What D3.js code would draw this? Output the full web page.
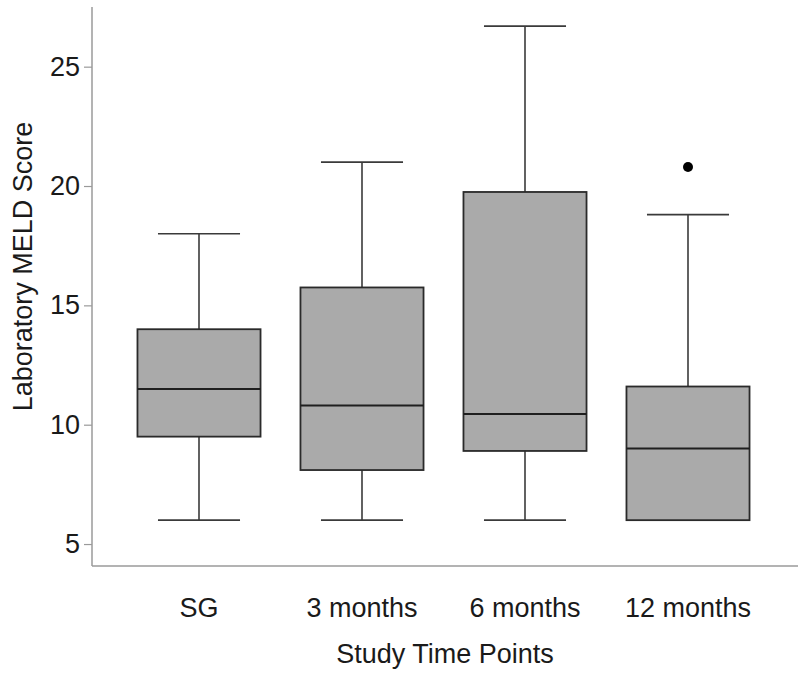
<!DOCTYPE html>
<html>
<head>
<meta charset="utf-8">
<script src="https://cdn.jsdelivr.net/npm/d3@7"></script>
<style>
  body { margin: 0; background: #fff; }
  text { font-family: "Liberation Sans", Arial, Helvetica, sans-serif; fill: #1a1a1a; }
</style>
</head>
<body>
<div id="chart"></div>
<script>
// Study time points and box statistics
const categories = ['SG', '3 months', '6 months', '12 months'];
const whiskerLow = [6.0, 6.0, 6.0, 6.0];
const q1 = [9.5, 8.1, 8.9, 6.0];
const median = [11.5, 10.8, 10.45, 9.0];
const q3 = [14.0, 15.75, 19.75, 11.6];
const whiskerHigh = [18.0, 21.0, 26.7, 18.8];
const outliers = [[], [], [], [20.8]];
const yTicks = [5, 10, 15, 20, 25];

const width = 800, height = 678;
const margin = { top: 7, right: 2, bottom: 112, left: 92 };
const fontSize = '27px';

const svg = d3.select('#chart').append('svg')
    .attr('width', width)
    .attr('height', height);

const yScale = d3.scaleLinear()
    .domain([4.08, 27.5])
    .range([height - margin.bottom, margin.top]);

const xScale = d3.scaleBand()
    .domain(categories)
    .range([117.5, 769.5])
    .paddingInner(0.245)
    .paddingOuter(0.1225);

const boxes = categories.map((c, i) => ({
    cat: c, lo: whiskerLow[i], q1: q1[i], med: median[i], q3: q3[i], hi: whiskerHigh[i], out: outliers[i]
}));

// Axes
const yAxis = d3.axisLeft(yScale).tickValues(yTicks).tickSize(8).tickPadding(4);
const gy = svg.append('g')
    .attr('transform', `translate(${margin.left},0)`)
    .call(yAxis);
gy.select('.domain').remove();
gy.append('line')
    .attr('x1', 0).attr('x2', 0)
    .attr('y1', margin.top).attr('y2', height - margin.bottom)
    .attr('stroke', '#9a9a9a').attr('stroke-width', 1.5);
gy.selectAll('.tick line').attr('stroke', '#9a9a9a').attr('stroke-width', 1.2);
gy.selectAll('.tick text').style('font-size', fontSize).attr('fill', '#1a1a1a');

const xAxis = d3.axisBottom(xScale).tickSize(0).tickPadding(32);
const gx = svg.append('g')
    .attr('transform', `translate(0,${height - margin.bottom})`)
    .call(xAxis);
gx.select('.domain').remove();
gx.append('line')
    .attr('x1', margin.left).attr('x2', width - margin.right)
    .attr('y1', 0).attr('y2', 0)
    .attr('stroke', '#9a9a9a').attr('stroke-width', 1.5);
gx.selectAll('.tick text').style('font-size', fontSize).attr('fill', '#1a1a1a');

// Axis titles
svg.append('text')
    .attr('x', (margin.left + width - margin.right) / 2)
    .attr('y', 663)
    .attr('text-anchor', 'middle')
    .style('font-size', fontSize)
    .text('Study Time Points');

svg.append('text')
    .attr('transform', `translate(32,${(margin.top + height - margin.bottom) / 2 - 20}) rotate(-90)`)
    .attr('text-anchor', 'middle')
    .style('font-size', fontSize)
    .text('Laboratory MELD Score');

// Boxes
const bw = xScale.bandwidth();
const capW = bw * 2 / 3;
const g = svg.append('g').selectAll('g.box')
    .data(boxes)
    .join('g')
    .attr('class', 'box')
    .attr('transform', d => `translate(${xScale(d.cat)},0)`);

// whiskers
g.append('line')
    .attr('x1', bw / 2).attr('x2', bw / 2)
    .attr('y1', d => yScale(d.hi)).attr('y2', d => yScale(d.q3))
    .attr('stroke', '#3a3a3a').attr('stroke-width', 1.6);
g.append('line')
    .attr('x1', bw / 2).attr('x2', bw / 2)
    .attr('y1', d => yScale(d.q1)).attr('y2', d => yScale(d.lo))
    .attr('stroke', '#3a3a3a').attr('stroke-width', 1.6);
// caps
g.append('line')
    .attr('x1', (bw - capW) / 2).attr('x2', (bw + capW) / 2)
    .attr('y1', d => yScale(d.hi)).attr('y2', d => yScale(d.hi))
    .attr('stroke', '#3a3a3a').attr('stroke-width', 1.6);
g.append('line')
    .attr('x1', (bw - capW) / 2).attr('x2', (bw + capW) / 2)
    .attr('y1', d => yScale(d.lo)).attr('y2', d => yScale(d.lo))
    .attr('stroke', '#3a3a3a').attr('stroke-width', 1.6);
// box
g.append('rect')
    .attr('x', 0).attr('width', bw)
    .attr('y', d => yScale(d.q3))
    .attr('height', d => yScale(d.q1) - yScale(d.q3))
    .attr('fill', '#aaaaaa')
    .attr('stroke', '#2a2a2a').attr('stroke-width', 1.8);
// median
g.append('line')
    .attr('x1', 0).attr('x2', bw)
    .attr('y1', d => yScale(d.med)).attr('y2', d => yScale(d.med))
    .attr('stroke', '#1f1f1f').attr('stroke-width', 2);
// outliers
g.selectAll('circle')
    .data(d => d.out)
    .join('circle')
    .attr('cx', bw / 2)
    .attr('cy', v => yScale(v))
    .attr('r', 5)
    .attr('fill', '#000');
</script>
</body>
</html>
